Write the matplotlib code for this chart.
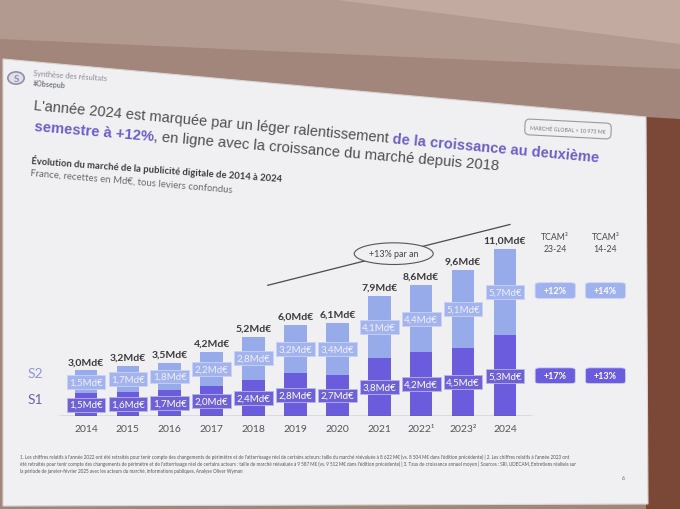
import math
import matplotlib
matplotlib.use('Agg')
import matplotlib.pyplot as plt
from matplotlib.patches import Polygon, Circle, FancyBboxPatch
from matplotlib import font_manager
from matplotlib.font_manager import FontProperties

# data
years = ['2014', '2015', '2016', '2017', '2018', '2019', '2020', '2021', '2022¹', '2023²', '2024']
s1 = [1.5, 1.6, 1.7, 2.0, 2.4, 2.8, 2.7, 3.8, 4.2, 4.5, 5.3]
s2 = [1.5, 1.7, 1.8, 2.2, 2.8, 3.2, 3.4, 4.1, 4.4, 5.1, 5.7]
totals = [3.0, 3.2, 3.5, 4.2, 5.2, 6.0, 6.1, 7.9, 8.6, 9.6, 11.0]
tcam_heads = ['TCAM³\n23-24', 'TCAM³\n14-24']
tcam_s1 = ['+17%', '+13%']
tcam_s2 = ['+12%', '+14%']

def md(v):
    return ('%.1f' % v).replace('.', ',') + 'Md€'

# fonts
def pick(names):
    for n in names:
        try:
            font_manager.findfont(FontProperties(family=n), fallback_to_default=False)
            return n
        except Exception:
            pass
    return 'DejaVu Sans'

ARIAL = pick(['Liberation Sans Narrow', 'Liberation Sans'])
CAL = pick(['Lato', 'Open Sans'])
plt.rcParams['font.family'] = [CAL, 'DejaVu Sans']

C1 = '#6a5cdc'
C2 = '#97aaea'
GREY = '#4f4f4f'
PURP = '#6a5fc8'

W, H = 680, 510
fig = plt.figure(figsize=(6.8, 5.1), dpi=100)
fig.patch.set_facecolor('#a3867b')

def fx(x):
    return x / W

def fy(y):
    return 1 - y / H

def fpoly(pts, **kw):
    fig.patches.append(Polygon([(fx(a), fy(b)) for a, b in pts], closed=True, zorder=-5,
                               transform=fig.transFigure, figure=fig, **kw))

# room around the slide
fpoly([(0, 0), (680, 0), (680, 70), (0, 40)], color='#b39a90', lw=0)
fpoly([(330, 0), (680, 0), (680, 45)], color='#c2aaa0', lw=0)
fpoly([(646, 118), (680, 120), (680, 510), (646, 510)], color='#7b4838', lw=0)
fpoly([(3, 60), (646, 118), (648, 505), (3, 507)], facecolor='#f0f0f2', edgecolor='#d8d4d4', lw=0.8)

renderer = fig.canvas.get_renderer()

def line_text(segs, x0, y0, x1, slope, family, size=None):
    # segs: list of (text, colour, weight); fitted between x0 and x1 along a sloped baseline
    th = math.atan(slope)
    target = (x1 - x0) / math.cos(th)
    def widths(sz):
        out = []
        for s, c, w in segs:
            fp = FontProperties(family=family, size=sz, weight=w)
            out.append(renderer.get_text_width_height_descent(s, fp, ismath=False)[0])
        return out
    if size is None:
        size = 10 * target / sum(widths(10))
    ws = widths(size)
    pos = 0
    for (s, c, w), wd in zip(segs, ws):
        px = x0 + pos * math.cos(th)
        py = y0 + pos * math.sin(th)
        fig.text(fx(px), fy(py), s, color=c, fontsize=size, fontweight=w, family=family,
                 rotation=-math.degrees(th), rotation_mode='anchor', ha='left', va='baseline')
        pos += wd

# header
logo = Circle((fx(16), fy(79)), 0.012, transform=fig.transFigure, figure=fig,
              facecolor='#dfe0ea', edgecolor='#8d90a8', lw=1.2)
fig.patches.append(logo)
fig.text(fx(16), fy(79), 'S', fontsize=7, color='#8d90a8', ha='center', va='center', fontweight='bold')
line_text([('Synthèse des résultats', '#8a8a96', 'normal')], 33, 76, 106, 0.07, CAL)
line_text([('#Obsepub', '#7a7a86', 'bold')], 33, 86, 66, 0.07, CAL)

line_text([("L'année 2024 est marquée par un léger ralentissement", GREY, 'normal'),
           (' de la croissance au deuxième', PURP, 'bold')], 33, 110, 600, 0.092, ARIAL)
line_text([('semestre à +12%', PURP, 'bold'),
           (', en ligne avec la croissance du marché depuis 2018', GREY, 'normal')], 34, 131, 503, 0.085, ARIAL)
line_text([('Évolution du marché de la publicité digitale de 2014 à 2024', '#3c3c3c', 'bold')],
          31, 164, 282, 0.072, CAL)
line_text([('France, recettes en Md€, tous leviers confondus', '#6a6a6a', 'normal')],
          30, 176, 233, 0.084, CAL)

fig.text(fx(568), fy(130), 'MARCHÉ GLOBAL = 10 973 M€', fontsize=3.8, color='#777', ha='center', va='center',
         rotation=-3, bbox=dict(boxstyle='round,pad=1.0,rounding_size=0.9', fc='#f0f0f2', ec='#9a9a9a', lw=0.8))

# chart
ax = fig.add_axes([fx(35.7), fy(417), (639 - 35.7) / W, 212.8 / H])
ax.set_zorder(2)
ax.set_xlim(-1.2, 13.2)
ax.set_ylim(0, 14)
ax.patch.set_alpha(0)
for sp in ax.spines.values():
    sp.set_visible(False)
ax.set_yticks([])
x = list(range(len(years)))
ax.set_xticks(x, years)
ax.tick_params(axis='x', length=0, pad=6, labelsize=7.5, labelcolor='#555555')
ax.hlines(0, -0.65, len(years) - 0.35, color='#505050', lw=0.9)

ax.bar(x, s1, width=0.54, color=C1)
ax.bar(x, s2, width=0.54, bottom=s1, color=C2)

for i in x:
    ax.text(i, s1[i] / 2, md(s1[i]), ha='center', va='center', fontsize=7, color='white',
            bbox=dict(boxstyle='square,pad=0.25', fc='#6d61d5', ec='#b9b3ee', lw=0.6))
    ax.text(i, s1[i] + s2[i] / 2, md(s2[i]), ha='center', va='center', fontsize=7, color='#eef0fb',
            bbox=dict(boxstyle='square,pad=0.25', fc='#a3b3ee', ec='#c9d2f5', lw=0.6))
    ax.annotate(md(totals[i]), (i, s1[i] + s2[i]), xytext=(0, 3), textcoords='offset points',
                ha='center', va='bottom', fontsize=7.5, fontweight='bold', color='#3a3a3a')

ax.text(-1.22, s1[0] + s2[0] / 2 + 0.55, 'S2', ha='center', va='center', fontsize=10, color='#8f98d8')
ax.text(-1.22, s1[0] / 2 + 0.35, 'S1', ha='center', va='center', fontsize=10, color='#6a62b3')

# growth trend line
x0, y0, x1, y1 = 4.34, totals[4] + 3.4, 10.12, totals[10] + 1.6
ax.plot([x0, x1], [y0, y1], color='#4a4a4a', lw=0.9)
t = 0.52
ax.text(x0 + t * (x1 - x0), y0 + t * (y1 - y0), '+13% par an', ha='center', va='center', fontsize=6.5,
        color='#444', bbox=dict(boxstyle='ellipse,pad=0.35', fc='#f0f0f2', ec='#555', lw=0.8))

# TCAM columns
tx = [11.2, 12.4]
for k in range(2):
    ax.text(tx[k], 11.4, tcam_heads[k], ha='center', va='center', fontsize=6.3, color='#4a4a4a',
            linespacing=1.4)
    for val, yc, fc in [(tcam_s2[k], s1[-1] + s2[-1] / 2 + 0.1, '#9fb2ee'), (tcam_s1[k], s1[-1] / 2, C1)]:
        ax.add_patch(FancyBboxPatch((tx[k] - 0.48, yc - 0.52), 0.96, 1.04,
                                    boxstyle='round,pad=0,rounding_size=0.12', mutation_aspect=1.0,
                                    fc=fc, ec='#d0d4f4', lw=0.6))
        ax.text(tx[k], yc, val, ha='center', va='center', fontsize=6.5, color='white', fontweight='bold')

# footnotes
notes = [
    "1. Les chiffres relatifs à l'année 2022 ont été retraités pour tenir compte des changements de périmètre et de l'atterrissage réel de certains acteurs: taille du marché réévaluée à 8 622 M€ (vs. 8 504 M€ dans l'édition précédente) | 2. Les chiffres relatifs à l'année 2023 ont",
    "été retraités pour tenir compte des changements de périmètre et de l'atterrissage réel de certains acteurs : taille de marché réévaluée à 9 587 M€ (vs. 9 512 M€ dans l'édition précédente) | 3. Taux de croissance annuel moyen | Sources : SRI, UDECAM, Entretiens réalisés sur",
    "la période de janvier-février 2025 avec les acteurs du marché, informations publiques, Analyse Oliver Wyman",
]
for j, s in enumerate(notes):
    fig.text(fx(20), fy(459 + 7 * j), s, fontsize=3.3, color='#555', ha='left', va='baseline')
fig.text(fx(623), fy(480), '6', fontsize=4, color='#666', ha='center', va='baseline')

fig.savefig('out.png', dpi=100, facecolor=fig.get_facecolor())
